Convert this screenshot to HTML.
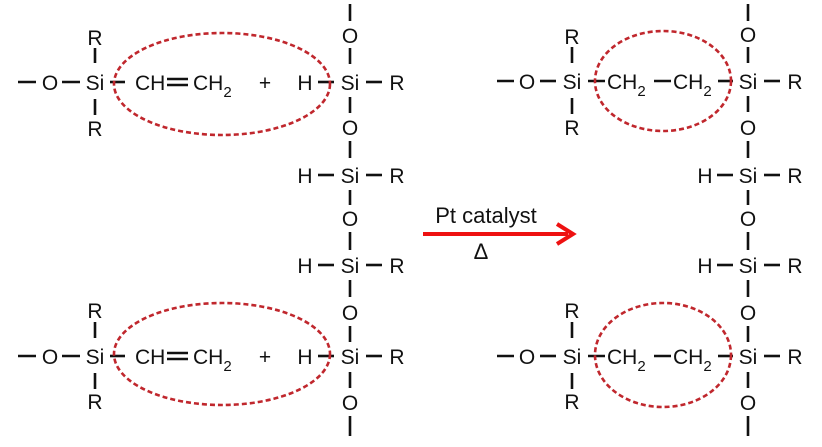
<!DOCTYPE html>
<html><head><meta charset="utf-8"><style>
html,body{margin:0;padding:0;background:#fff}
svg{display:block}
text{font-family:"Liberation Sans",Arial,sans-serif;font-size:21px;fill:#111}
.cal{font-size:22px}
line{stroke:#111;stroke-width:2.6}
.el{fill:none;stroke:#c0272d;stroke-width:2.6;stroke-dasharray:5 3}
</style></head><body>
<svg width="822" height="447" viewBox="0 0 822 447" xmlns="http://www.w3.org/2000/svg">
<g text-anchor="middle">
<!-- LEFT TOP ROW y=82 -->
<line x1="18" y1="82" x2="36" y2="82"/>
<text x="50" y="90">O</text>
<line x1="62" y1="82" x2="80" y2="82"/>
<text x="95" y="90">Si</text>
<text x="95" y="45">R</text>
<line x1="95" y1="48" x2="95" y2="63"/>
<line x1="95" y1="99" x2="95" y2="115"/>
<text x="95" y="136">R</text>
<line x1="110" y1="82" x2="125" y2="82"/>
<text x="305" y="90">H</text>
<line x1="318" y1="82" x2="334" y2="82"/>
<text x="265" y="90">+</text>
<line x1="167" y1="79" x2="188" y2="79"/><line x1="167" y1="85" x2="188" y2="85"/>

<!-- LEFT BOTTOM ROW y=356 -->
<line x1="18" y1="356" x2="36" y2="356"/>
<text x="50" y="364">O</text>
<line x1="62" y1="356" x2="80" y2="356"/>
<text x="95" y="364">Si</text>
<text x="95" y="318">R</text>
<line x1="95" y1="322" x2="95" y2="338"/>
<line x1="95" y1="373" x2="95" y2="389"/>
<text x="95" y="409">R</text>
<line x1="110" y1="356" x2="125" y2="356"/>
<text x="265" y="364">+</text>
<text x="305" y="364">H</text>
<line x1="318" y1="356" x2="334" y2="356"/>
<line x1="167" y1="353" x2="188" y2="353"/><line x1="167" y1="359" x2="188" y2="359"/>

<!-- LEFT COLUMN x=350 -->
<line x1="350" y1="4" x2="350" y2="21"/>
<text x="350" y="43">O</text>
<line x1="350" y1="48" x2="350" y2="64"/>
<text x="350" y="90">Si</text>
<line x1="366" y1="82" x2="382" y2="82"/><text x="397" y="90">R</text>
<line x1="350" y1="97" x2="350" y2="113"/>
<text x="350" y="135">O</text>
<line x1="350" y1="141" x2="350" y2="158"/>
<text x="350" y="183">Si</text>
<text x="305" y="183">H</text><line x1="318" y1="175" x2="334" y2="175"/>
<line x1="366" y1="175" x2="382" y2="175"/><text x="397" y="183">R</text>
<line x1="350" y1="190" x2="350" y2="205"/>
<text x="350" y="226">O</text>
<line x1="350" y1="232" x2="350" y2="250"/>
<text x="350" y="273">Si</text>
<text x="305" y="273">H</text><line x1="318" y1="265" x2="334" y2="265"/>
<line x1="366" y1="265" x2="382" y2="265"/><text x="397" y="273">R</text>
<line x1="350" y1="280" x2="350" y2="297"/>
<text x="350" y="320">O</text>
<line x1="350" y1="326" x2="350" y2="342"/>
<text x="350" y="364">Si</text>
<line x1="366" y1="356" x2="382" y2="356"/><text x="397" y="364">R</text>
<line x1="350" y1="372" x2="350" y2="388"/>
<text x="350" y="410">O</text>
<line x1="350" y1="416" x2="350" y2="436"/>

<!-- RIGHT TOP ROW y=81 -->
<line x1="497" y1="81" x2="514" y2="81"/>
<text x="527" y="89">O</text>
<line x1="540" y1="81" x2="556" y2="81"/>
<text x="572" y="89">Si</text>
<text x="572" y="44">R</text>
<line x1="572" y1="47" x2="572" y2="63"/>
<line x1="572" y1="98" x2="572" y2="114"/>
<text x="572" y="135">R</text>
<line x1="588" y1="81" x2="605" y2="81"/>
<line x1="654" y1="81" x2="671" y2="81"/>
<line x1="718" y1="81" x2="733" y2="81"/>

<!-- RIGHT BOTTOM ROW y=356 -->
<line x1="497" y1="356" x2="514" y2="356"/>
<text x="527" y="364">O</text>
<line x1="540" y1="356" x2="556" y2="356"/>
<text x="572" y="364">Si</text>
<text x="572" y="318">R</text>
<line x1="572" y1="322" x2="572" y2="338"/>
<line x1="572" y1="373" x2="572" y2="389"/>
<text x="572" y="409">R</text>
<line x1="588" y1="356" x2="605" y2="356"/>
<line x1="654" y1="356" x2="671" y2="356"/>
<line x1="718" y1="356" x2="733" y2="356"/>

<!-- RIGHT COLUMN x=748 -->
<line x1="748" y1="4" x2="748" y2="21"/>
<text x="748" y="42">O</text>
<line x1="748" y1="47" x2="748" y2="63"/>
<text x="748" y="89">Si</text>
<line x1="764" y1="81" x2="780" y2="81"/><text x="795" y="89">R</text>
<line x1="748" y1="96" x2="748" y2="112"/>
<text x="748" y="135">O</text>
<line x1="748" y1="141" x2="748" y2="158"/>
<text x="748" y="183">Si</text>
<text x="705" y="183">H</text><line x1="717" y1="175" x2="733" y2="175"/>
<line x1="764" y1="175" x2="780" y2="175"/><text x="795" y="183">R</text>
<line x1="748" y1="190" x2="748" y2="205"/>
<text x="748" y="226">O</text>
<line x1="748" y1="232" x2="748" y2="250"/>
<text x="748" y="273">Si</text>
<text x="705" y="273">H</text><line x1="717" y1="265" x2="733" y2="265"/>
<line x1="764" y1="265" x2="780" y2="265"/><text x="795" y="273">R</text>
<line x1="748" y1="280" x2="748" y2="297"/>
<text x="748" y="320">O</text>
<line x1="748" y1="326" x2="748" y2="342"/>
<text x="748" y="364">Si</text>
<line x1="764" y1="356" x2="780" y2="356"/><text x="795" y="364">R</text>
<line x1="748" y1="372" x2="748" y2="388"/>
<text x="748" y="410">O</text>
<line x1="748" y1="416" x2="748" y2="436"/>

<!-- ARROW -->
<text class="cal" x="486" y="223">Pt catalyst</text>
<text class="cal" x="481" y="259">Δ</text>
</g>
<!-- CH groups, start-anchored -->
<text x="135" y="90">CH</text>
<text x="193" y="90">CH<tspan font-size="15" dy="7">2</tspan></text>
<text x="135" y="364">CH</text>
<text x="193" y="364">CH<tspan font-size="15" dy="7">2</tspan></text>
<text x="607" y="89">CH<tspan font-size="15" dy="7">2</tspan></text>
<text x="673" y="89">CH<tspan font-size="15" dy="7">2</tspan></text>
<text x="607" y="364">CH<tspan font-size="15" dy="7">2</tspan></text>
<text x="673" y="364">CH<tspan font-size="15" dy="7">2</tspan></text>

<line x1="423" y1="234" x2="568" y2="234" style="stroke:#ee1111;stroke-width:4"/>
<polyline points="557,224 573,234 557,244" style="fill:none;stroke:#ee1111;stroke-width:4"/>

<!-- ELLIPSES -->
<ellipse class="el" cx="222" cy="84" rx="108" ry="51"/>
<ellipse class="el" cx="222" cy="354" rx="108" ry="51"/>
<ellipse class="el" cx="663" cy="81" rx="68" ry="50"/>
<ellipse class="el" cx="663" cy="355" rx="68" ry="52"/>
</svg>
</body></html>
